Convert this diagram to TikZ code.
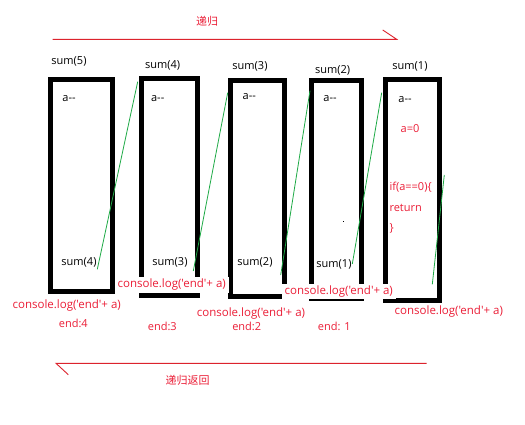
\documentclass[tikz,border=0pt]{standalone}
\usepackage{fontspec}
\setmainfont{Open Sans}[Ligatures=TeXOff]
\newfontfamily\cjk{Noto Sans CJK SC}
\definecolor{myred}{RGB}{235,30,55}
\definecolor{arrowred}{RGB}{220,35,45}
\definecolor{mygreen}{RGB}{30,170,70}
\begin{document}
\begin{tikzpicture}[x=1pt,y=-1pt,
  frame/.style={line width=5pt,draw=black},
  lbl/.style={font=\fontsize{11}{13}\selectfont,text=black,inner sep=0pt},
  rlbl/.style={font=\fontsize{11}{13}\selectfont,text=myred,inner sep=0pt},
  clog/.style={font=\fontsize{11.5}{13}\selectfont,text=myred,inner sep=0pt},
  clogw/.style={font=\fontsize{11.5}{13}\selectfont,text=myred,fill=white,inner xsep=3pt,inner ysep=2pt},
  link/.style={draw=mygreen,line width=0.8pt},
  flow/.style={draw=arrowred,line width=0.9pt}]
\useasboundingbox (0,0) rectangle (525,424);
\fill[white] (0,0) rectangle (525,424);

% top arrow
\coordinate (ta) at (52.7,39.3);
\coordinate (tb) at (396.7,39.3);
\coordinate (tc) at (382.7,30);
\draw[flow] (ta) -- (tb) -- (tc);
\node[font=\cjk\fontsize{11}{13}\selectfont,text=myred,inner sep=0pt] (t1) at (207,21) {递归};

% bottom arrow
\coordinate (ba) at (426.7,363.3);
\coordinate (bb) at (56,363.3);
\coordinate (bc) at (68.3,374.7);
\draw[flow] (ba) -- (bb) -- (bc);
\node[font=\cjk\fontsize{11}{13}\selectfont,text=myred,inner sep=0pt] (t2) at (187.7,380.7) {递归返回};

% frames
\draw[frame] (50.8,79.2) rectangle (112.5,291.5);
\draw[frame] (141.5,78.5) rectangle (197.5,295.2);
\draw[frame] (230.8,80.8) rectangle (284.2,296.7);
\draw[frame] (311.7,80.8) rectangle (361.5,298);
\draw[frame] (385.8,79.2) rectangle (439.2,300.2);

% headers
\node[lbl] (h5) at (69,61.7) {sum(5)};
\node[lbl] (h4) at (162.7,65.7) {sum(4)};
\node[lbl] (h3) at (250,66) {sum(3)};
\node[lbl] (h2) at (332.7,70.7) {sum(2)};
\node[lbl] (h1) at (410,66.7) {sum(1)};

% a--
\node[lbl] (d5) at (69,99) {a--};
\node[lbl] (d4) at (157.7,99) {a--};
\node[lbl] (d3) at (249.3,96.7) {a--};
\node[lbl] (d2) at (330,98.3) {a--};
\node[lbl] (d1) at (405,99.3) {a--};

\node[rlbl] (a0) at (410,128.3) {a=0};
\node[rlbl,anchor=west] (if) at (389.3,187.3) {if(a==0)\{};
\node[rlbl,anchor=west] (ret) at (389.3,208.3) {return};
\node[rlbl,anchor=west] (cb) at (389.3,228.3) {\}};

% inner calls
\node[lbl] (c4) at (79,262.3) {sum(4)};
\node[lbl] (c3) at (170,262.7) {sum(3)};
\node[lbl] (c2) at (255,262) {sum(2)};
\node[lbl] (c1) at (334,264.3) {sum(1)};
\fill (343,220.5) rectangle (344,221.5);

% green links
\coordinate (g1a) at (97.3,269.3);  \coordinate (g1b) at (137.7,81.7);
\coordinate (g2a) at (193.3,271);   \coordinate (g2b) at (227.7,92.7);
\coordinate (g3a) at (280.7,275);   \coordinate (g3b) at (310,90.7);
\coordinate (g4a) at (352.3,264);   \coordinate (g4b) at (381.7,92.7);
\coordinate (g5a) at (432.3,284.3); \coordinate (g5b) at (444.3,175);
\draw[link] (g1a) -- (g1b);
\draw[link] (g2a) -- (g2b);
\draw[link] (g3a) -- (g3b);
\draw[link] (g4a) -- (g4b);
\draw[link] (g5a) -- (g5b);

% console logs
\node[clog] (l5) at (66.7,305.7) {console.log('end'+ a)};
\node[rlbl] (e5) at (73.3,323.3) {end:4};
\node[clogw] (l4) at (171.7,285) {console.log('end'+ a)};
\node[rlbl] (e4) at (162.3,326) {end:3};
\node[clog] (l3) at (251,313.3) {console.log('end'+ a)};
\node[rlbl] (e3) at (246.7,326.7) {end:2};
\node[clogw] (l2) at (338.8,291.5) {console.log('end'+ a)};
\node[rlbl] (e2) at (334.3,326) {end: 1};
\node[clog] (l1) at (448.8,311.7) {console.log('end'+ a)};
\end{tikzpicture}
\end{document}
